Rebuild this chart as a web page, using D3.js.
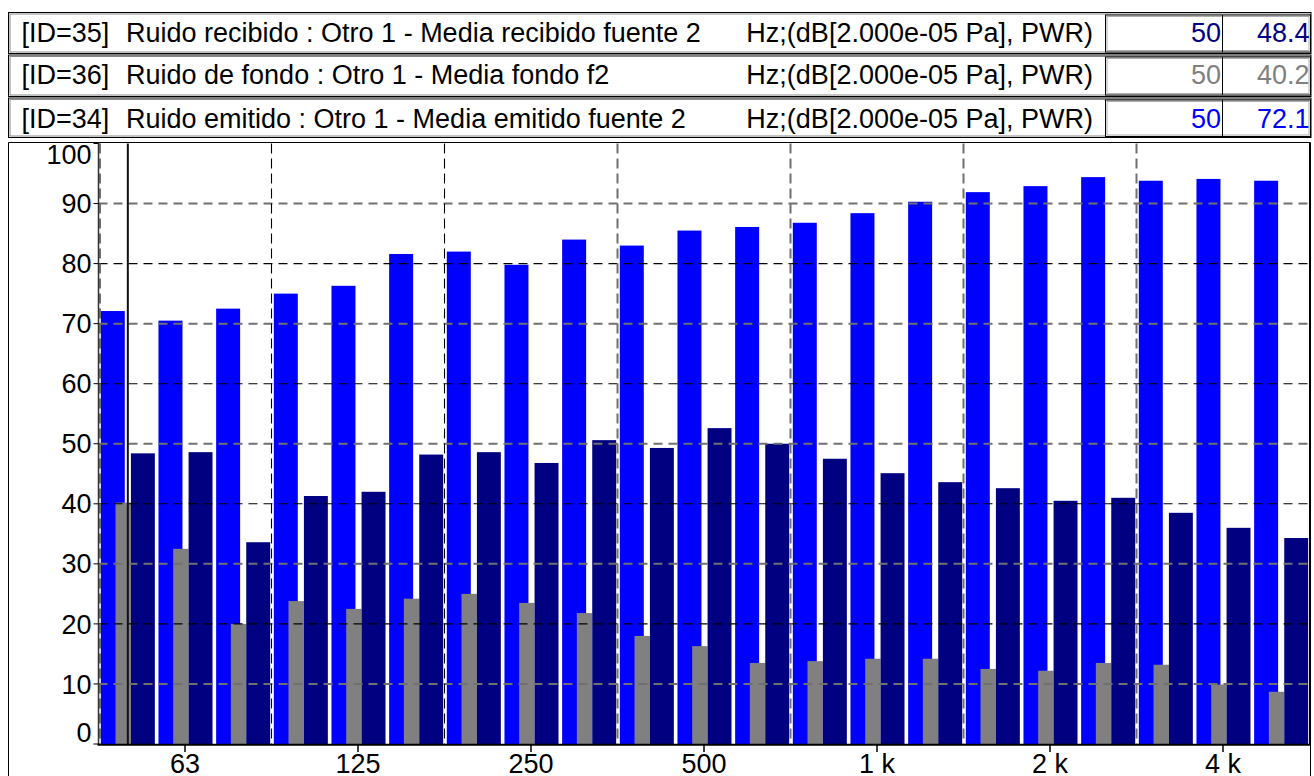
<!DOCTYPE html>
<html>
<head>
<meta charset="utf-8">
<script src="https://cdn.jsdelivr.net/npm/d3@7/dist/d3.min.js"></script>
<style>
  html, body { margin: 0; padding: 0; background: #fff; }
  svg { display: block; font-family: "Liberation Sans", Arial, Helvetica, sans-serif; }
  text { white-space: pre; }
</style>
</head>
<body>
<svg id="chart" width="1314" height="776"></svg>
<script>
// Third-octave band centre frequencies (Hz)
const bands = ["50","63","80","100","125","160","200","250","315","400","500","630","800","1000","1250","1600","2000","2500","3150","4000","5000"];

// Levels in dB re 2e-5 Pa
const emitted    = [72.1,70.5,72.5,75.0,76.3,81.6,82.0,79.8,84.0,83.0,85.5,86.1,86.8,88.4,90.3,91.9,92.9,94.4,93.8,94.1,93.8];
const received   = [48.4,48.6,33.6,41.3,42.0,48.2,48.6,46.8,50.6,49.3,52.6,50.0,47.5,45.1,43.6,42.6,40.5,41.0,38.5,36.0,34.3];
const background = [40.2,32.5,20.0,23.8,22.5,24.2,25.0,23.5,21.8,18.0,16.3,13.5,13.8,14.2,14.2,12.5,12.2,13.5,13.2,9.9,8.7];

// Axis ticks
const yTicks = [0,10,20,30,40,50,60,70,80,90,100];
const xTickBands  = ["63","125","250","500","1000","2000","4000"];
const xTickLabels = ["63","125","250","500","1 k","2 k","4 k"];
// Lower band of each octave: vertical grid lines sit on its left edge
const octaveStarts = ["50","100","200","400","800","1600","3150"];

// Legend rows (top to bottom)
const legendIds   = ["[ID=35]","[ID=36]","[ID=34]"];
const legendNames = ["Ruido recibido : Otro 1 - Media recibido fuente 2",
                     "Ruido de fondo : Otro 1 - Media fondo f2",
                     "Ruido emitido : Otro 1 - Media emitido fuente 2"];
const legendUnit  = "Hz;(dB[2.000e-05 Pa], PWR)";
const legendSeries = [received, background, emitted];
const cursorBand = "50";

const COL_EMIT = "#0000ff", COL_RECV = "#000080", COL_BACK = "#808080";
const legendColors = [COL_RECV, COL_BACK, COL_EMIT];

const svg = d3.select("#chart");
const FONT = 27;

// ---- plot scales ----
const plot = { left: 98.5, right: 1309.5, top: 143.5, bottom: 744 };
const x = d3.scaleBand().domain(bands).range([plot.left, plot.right]).paddingInner(0).paddingOuter(0);
const y = d3.scaleLinear().domain([0, 100]).range([plot.bottom, plot.top]);
const bw = x.bandwidth();

// ---- header: legend rows ----
const rowBoxes = [[12.5, 53.5], [55, 96.5], [98, 137.5]];
const valBoxes = [[15, 52], [57, 95], [100, 136.5]];
const baselines = [41.7, 84.3, 128];
const header = svg.append("g");
rowBoxes.forEach((r, i) => {
  header.append("rect").attr("x", 8.5).attr("y", r[0]).attr("width", 1302.5).attr("height", r[1] - r[0])
    .attr("fill", "#fff").attr("stroke", "#000").attr("stroke-width", 1);
  header.append("rect").attr("x", 10).attr("y", r[0] + 1.5).attr("width", 1299.5).attr("height", r[1] - r[0] - 3)
    .attr("fill", "none").attr("stroke", "#888").attr("stroke-width", 1);
  const v = valBoxes[i];
  header.append("rect").attr("x", 1105.5).attr("y", v[0]).attr("width", 205).attr("height", v[1] - v[0])
    .attr("fill", "#fff").attr("stroke", "#000").attr("stroke-width", 1);
  header.append("rect").attr("x", 1107).attr("y", v[0] + 1.5).attr("width", 202).attr("height", v[1] - v[0] - 3)
    .attr("fill", "none").attr("stroke", "#999").attr("stroke-width", 0.8);
  header.append("line").attr("x1", 1222.5).attr("x2", 1222.5).attr("y1", v[0]).attr("y2", v[1])
    .attr("stroke", "#000").attr("stroke-width", 1);

  header.append("text").attr("x", 21.5).attr("y", baselines[i]).attr("font-size", FONT).attr("fill", "#000")
    .text(legendIds[i]);
  header.append("text").attr("x", 126).attr("y", baselines[i]).attr("font-size", FONT).attr("fill", "#000")
    .text(legendNames[i]);
  header.append("text").attr("x", 1093).attr("y", baselines[i]).attr("font-size", FONT).attr("fill", "#000")
    .attr("text-anchor", "end").text(legendUnit);
  const bi = bands.indexOf(cursorBand);
  header.append("text").attr("x", 1221).attr("y", baselines[i]).attr("font-size", FONT).attr("fill", legendColors[i])
    .attr("text-anchor", "end").text(cursorBand);
  header.append("text").attr("x", 1309.5).attr("y", baselines[i]).attr("font-size", FONT).attr("fill", legendColors[i])
    .attr("text-anchor", "end").text(legendSeries[i][bi].toFixed(1));
});

// ---- outer frame around the plot ----
svg.append("path").attr("d", `M8.5,790 V142.5 H1310.5 V790`).attr("fill", "none").attr("stroke", "#000").attr("stroke-width", 1);

// ---- bars ----
const barsG = svg.append("g");
const layout = [
  { data: emitted,    color: COL_EMIT, f0: 0.040, f1: 0.456 },
  { data: background, color: COL_BACK, f0: 0.295, f1: 0.562 },
  { data: received,   color: COL_RECV, f0: 0.562, f1: 0.977 }
];
layout.forEach(s => {
  barsG.selectAll(null).data(bands).enter().append("rect")
    .attr("x", d => x(d) + s.f0 * bw)
    .attr("width", (s.f1 - s.f0) * bw)
    .attr("y", (d, i) => y(s.data[i]))
    .attr("height", (d, i) => y(0) - y(s.data[i]))
    .attr("fill", s.color);
});

// ---- grid ----
const grid = svg.append("g");
yTicks.filter(t => t > 0 && t < 100).forEach(t => {
  const odd = (t / 10) % 2 === 1;
  grid.append("line").attr("x1", plot.left).attr("x2", plot.right).attr("y1", y(t)).attr("y2", y(t))
    .attr("stroke", odd ? "#707070" : "#000").attr("stroke-width", odd ? 2 : 1.1)
    .attr("stroke-dasharray", "9,6");
});
octaveStarts.forEach((b, i) => {
  const gx = Math.max(x(b), plot.left + 1.5);
  const dark = i === 1 || i === 2;
  grid.append("line").attr("x1", gx).attr("x2", gx).attr("y1", plot.top).attr("y2", plot.bottom)
    .attr("stroke", dark ? "#000" : "#707070").attr("stroke-width", dark ? 1.1 : 2)
    .attr("stroke-dasharray", "10,5");
});

// ---- cursor ----
const cx = x(cursorBand) + bw / 2 + 0.5;
svg.append("line").attr("x1", cx).attr("x2", cx).attr("y1", plot.top).attr("y2", plot.bottom)
  .attr("stroke", "#111").attr("stroke-width", 2);

// ---- axes ----
const axes = svg.append("g");
axes.append("line").attr("x1", plot.left).attr("x2", plot.left).attr("y1", plot.top - 1).attr("y2", plot.bottom + 1)
  .attr("stroke", "#333").attr("stroke-width", 1.5);
axes.append("line").attr("x1", plot.left - 1).attr("x2", plot.right + 1).attr("y1", plot.bottom + 0.8).attr("y2", plot.bottom + 0.8)
  .attr("stroke", "#000").attr("stroke-width", 2);
axes.append("line").attr("x1", plot.right).attr("x2", plot.right).attr("y1", plot.top - 1).attr("y2", plot.bottom)
  .attr("stroke", "#000").attr("stroke-width", 1);

yTicks.forEach(t => {
  axes.append("line").attr("x1", plot.left - 5).attr("x2", plot.left).attr("y1", y(t)).attr("y2", y(t))
    .attr("stroke", "#000").attr("stroke-width", 1);
  let base = y(t) + 9.6;
  if (t === 0) base = y(t) - 2.3;
  if (t === 100) base = y(t) + 20.5;
  axes.append("text").attr("x", 91.5).attr("y", base).attr("text-anchor", "end")
    .attr("font-size", FONT).attr("fill", "#000").text(t);
});

xTickBands.forEach((b, i) => {
  const tx = x(b) + bw / 2;
  axes.append("line").attr("x1", tx).attr("x2", tx).attr("y1", plot.bottom + 1).attr("y2", plot.bottom + 8)
    .attr("stroke", "#000").attr("stroke-width", 1.5);
  axes.append("text").attr("x", tx).attr("y", 773).attr("text-anchor", "middle")
    .attr("font-size", FONT).attr("fill", "#000").text(xTickLabels[i]);
});
</script>
</body>
</html>
